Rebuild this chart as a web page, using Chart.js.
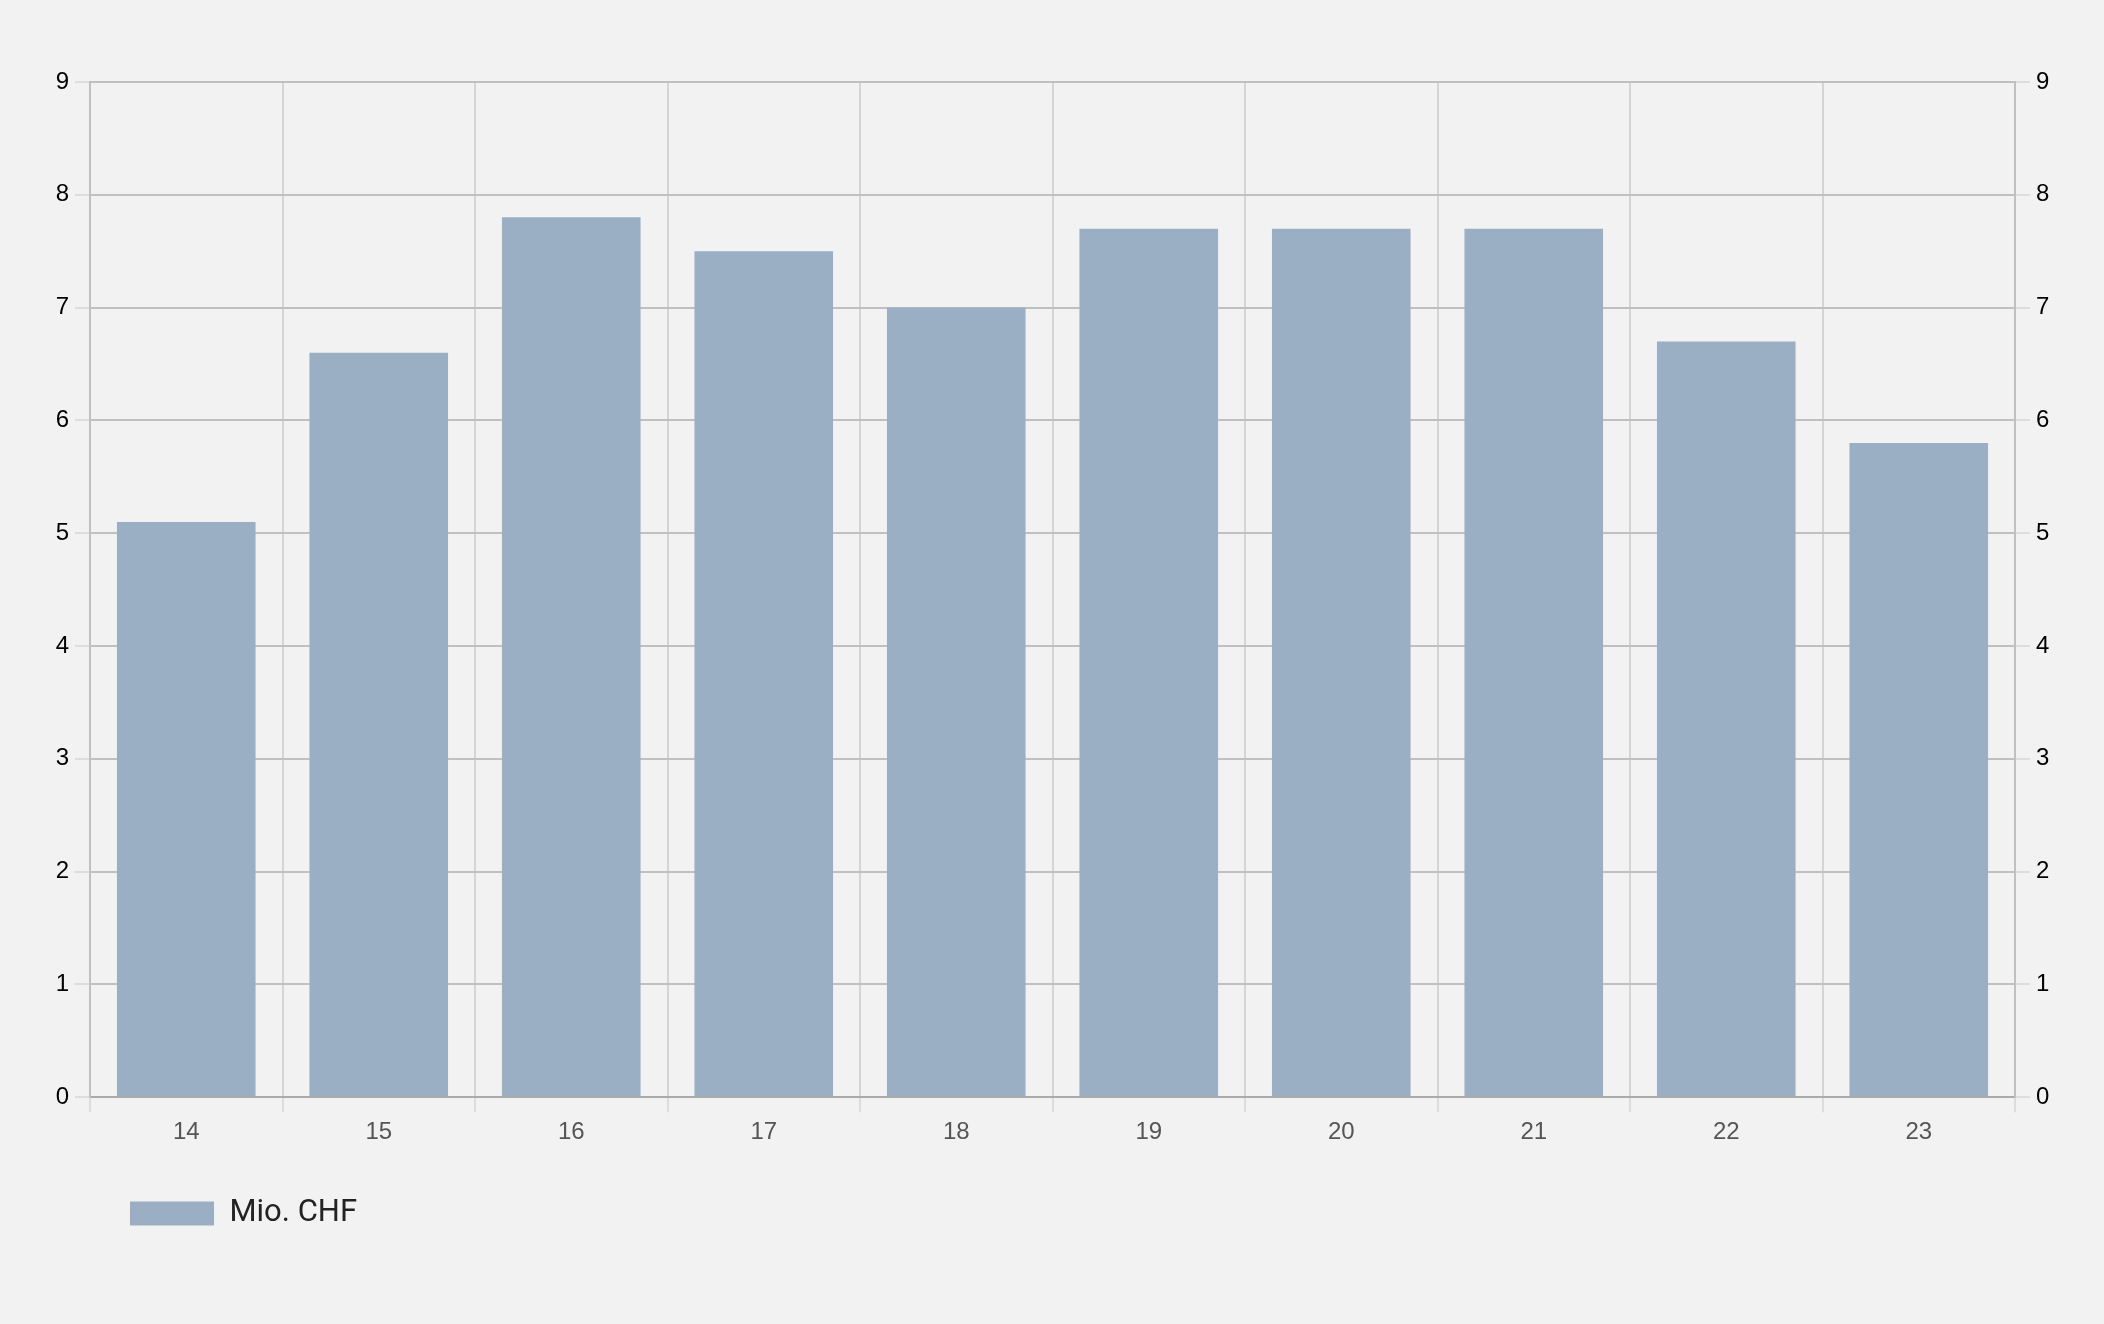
<!DOCTYPE html>
<html>
<head>
<meta charset="utf-8">
<script src="https://cdn.jsdelivr.net/npm/chart.js@4/dist/chart.umd.min.js"></script>
<style>
  html, body { margin: 0; padding: 0; background: #f2f2f2; }
  #wrap { width: 2104px; height: 1324px; }
</style>
</head>
<body>
<div id="wrap"><canvas id="chart" width="2104" height="1324"></canvas></div>
<script>
// Jahre (20xx) und Werte in Mio. CHF
const years = ['14', '15', '16', '17', '18', '19', '20', '21', '22', '23'];
const values = [5.1, 6.6, 7.8, 7.5, 7.0, 7.7, 7.7, 7.7, 6.7, 5.8];
const seriesLabel = 'Mio. CHF';
const yMin = 0;
const yMax = 9;

const barColor = '#9aafc4';

// Legende unten links verschieben
const legendShift = {
  id: 'legendShift',
  afterLayout(chart) {
    const lg = chart.legend;
    if (!lg) return;
    lg.left = 120;
    lg.right = 700;
    lg.top = 1188;
    lg.bottom = 1260;
    lg.height = 72;
  }
};

const ctx = document.getElementById('chart').getContext('2d');
new Chart(ctx, {
  type: 'bar',
  data: {
    labels: years,
    datasets: [{
      label: seriesLabel,
      data: values,
      backgroundColor: barColor,
      borderWidth: 0
    }]
  },
  options: {
    responsive: false,
    animation: false,
    layout: { padding: { top: 82, bottom: 120, left: 0, right: 0 } },
    plugins: {
      tooltip: { enabled: false },
      legend: {
        position: 'bottom',
        align: 'start',
        labels: {
          boxWidth: 84,
          boxHeight: 24,
          padding: 10,
          color: '#222',
          font: { family: 'Roboto', size: 31 }
        }
      }
    },
    scales: {
      x: {
        grid: {
          color: '#d4d4d4',
          tickColor: '#dcdcdc',
          tickLength: 15,
          lineWidth: 2
        },
        border: { color: '#aaaaaa', width: 2 },
        ticks: {
          color: '#555',
          padding: 6,
          font: { family: 'Liberation Sans', size: 24 }
        }
      },
      y: {
        position: 'left',
        min: yMin,
        max: yMax,
        afterFit(scale) { scale.width = 90; },
        grid: {
          color: '#c0c0c0',
          tickColor: '#dddddd',
          tickLength: 15,
          lineWidth: 2
        },
        border: { color: '#c0c0c0', width: 2 },
        ticks: {
          stepSize: 1,
          color: '#000',
          padding: 6,
          font: { family: 'Liberation Sans', size: 24 }
        }
      },
      y2: {
        position: 'right',
        min: yMin,
        max: yMax,
        afterFit(scale) { scale.width = 89; },
        grid: {
          drawOnChartArea: false,
          tickColor: '#dddddd',
          tickLength: 15,
          lineWidth: 2
        },
        border: { color: '#c0c0c0', width: 2 },
        ticks: {
          stepSize: 1,
          color: '#000',
          padding: 6,
          font: { family: 'Liberation Sans', size: 24 }
        }
      }
    }
  },
  plugins: [legendShift]
});
</script>
</body>
</html>
